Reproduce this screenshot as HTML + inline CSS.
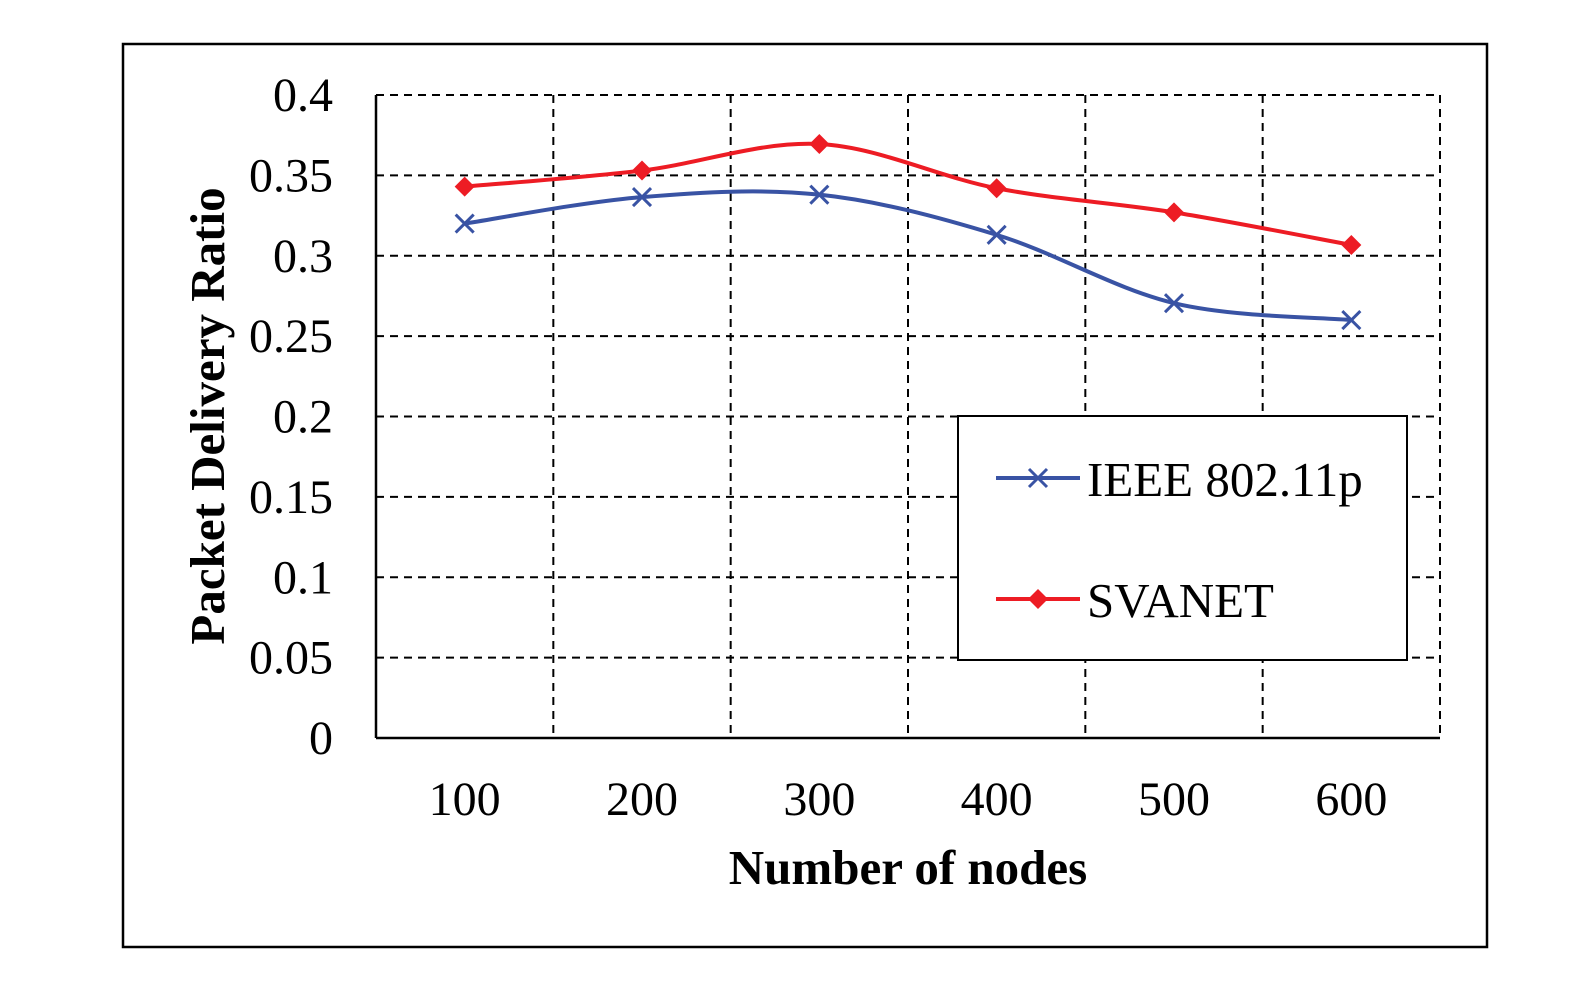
<!DOCTYPE html>
<html><head><meta charset="utf-8"><style>
html,body{margin:0;padding:0;background:#fff;}
svg{display:block;font-family:"Liberation Serif",serif;}
</style></head><body>
<svg id="chart" width="1573" height="1008" viewBox="0 0 1573 1008">
<rect x="123" y="44" width="1364" height="903" fill="#fff" stroke="#000" stroke-width="2.5"/>
<g id="grid"></g>
<g id="axes"></g>
<g id="series"></g>
<text x="908" y="884" font-size="49" font-weight="bold" text-anchor="middle">Number of nodes</text>
<text transform="translate(224,416) rotate(-90)" font-size="49" font-weight="bold" text-anchor="middle">Packet Delivery Ratio</text>
<g>
<rect x="958" y="416" width="449" height="244" fill="#fff" stroke="#000" stroke-width="2"/>
<g>
<line x1="996" y1="478" x2="1080" y2="478" stroke="#3953a4" stroke-width="4"/>
<path d="M1029,469 L1047,487 M1029,487 L1047,469" stroke="#3953a4" stroke-width="3"/>
<text x="1087" y="496" font-size="49">IEEE 802.11p</text>
</g>
<g>
<line x1="996" y1="599" x2="1080" y2="599" stroke="#ed1c24" stroke-width="4"/>
<path d="M1038,589 L1048,599 L1038,609 L1028,599 Z" fill="#ed1c24"/>
<text x="1087" y="617" font-size="49">SVANET</text>
</g>
</g>
</svg>
<script>
const categories = [100, 200, 300, 400, 500, 600];
const ieeeValues = [0.320, 0.3365, 0.338, 0.313, 0.2705, 0.260];
const svanetValues = [0.343, 0.353, 0.3695, 0.342, 0.327, 0.3067];
const yTicks = [0, 0.05, 0.1, 0.15, 0.2, 0.25, 0.3, 0.35, 0.4];
const yTickLabels = ["0","0.05","0.1","0.15","0.2","0.25","0.3","0.35","0.4"];

const NS = "http://www.w3.org/2000/svg";
const L = 376, R = 1440, T = 95, B = 738, yMax = 0.4;
const bw = (R - L) / categories.length;
function xPos(i){ return L + bw * (i + 0.5); }
function yPos(v){ return B - (v / yMax) * (B - T); }
function mk(tag, attrs, parent){
  const e = document.createElementNS(NS, tag);
  for (const k in attrs) e.setAttribute(k, attrs[k]);
  parent.appendChild(e);
  return e;
}
const grid = document.getElementById("grid");
const axes = document.getElementById("axes");
const series = document.getElementById("series");

yTicks.forEach((t, i) => {
  const y = yPos(t);
  if (t !== 0) {
    const g = mk("line", {x1:L, x2:R, y1:y, y2:y, stroke:"#000", "stroke-width":2, "stroke-dasharray":"8,6"}, grid);
    
    
  }
  const tx = mk("text", {x:333, y:y+16, "font-size":48, "text-anchor":"end"}, axes);
  tx.textContent = yTickLabels[i];
  
  
});
for (let i = 1; i <= categories.length; i++) {
  const x = L + bw * i;
  const g = mk("line", {x1:x, x2:x, y1:T, y2:B, stroke:"#000", "stroke-width":2, "stroke-dasharray":"8,6"}, grid);
  
  
}
categories.forEach((c, i) => {
  const tx = mk("text", {x:xPos(i), y:815, "font-size":48, "text-anchor":"middle"}, axes);
  tx.textContent = c;
  
  
});
const ya = mk("line", {x1:L, x2:L, y1:T, y2:B, stroke:"#000", "stroke-width":2.5}, axes);


const xa = mk("line", {x1:L, x2:R, y1:B, y2:B, stroke:"#000", "stroke-width":2.5}, axes);



function smoothPath(vals){
  const p = vals.map((v, i) => [xPos(i), yPos(v)]);
  let d = "M" + p[0][0] + "," + p[0][1];
  for (let i = 0; i < p.length - 1; i++) {
    const p0 = p[i-1] || p[i], p1 = p[i], p2 = p[i+1], p3 = p[i+2] || p[i+1];
    const c1 = [p1[0] + (p2[0]-p0[0])/6, p1[1] + (p2[1]-p0[1])/6];
    const c2 = [p2[0] - (p3[0]-p1[0])/6, p2[1] - (p3[1]-p1[1])/6];
    d += " C" + c1 + " " + c2 + " " + p2;
  }
  return d;
}
function drawSeries(vals, color, kind, name){
  const g = mk("g", {}, series);
  
  
  const ln = mk("path", {d:smoothPath(vals), fill:"none", stroke:color, "stroke-width":4}, g);
  
  
  vals.forEach((v, i) => {
    const x = xPos(i), y = yPos(v);
    let m;
    if (kind === "x") {
      m = mk("path", {d:`M${x-9},${y-9} L${x+9},${y+9} M${x-9},${y+9} L${x+9},${y-9}`, stroke:color, "stroke-width":3}, g);
    } else {
      m = mk("path", {d:`M${x},${y-10} L${x+10},${y} L${x},${y+10} L${x-10},${y} Z`, fill:color}, g);
    }
    
    
  });
}
drawSeries(ieeeValues, "#3953a4", "x", "ieee-series");
drawSeries(svanetValues, "#ed1c24", "d", "svanet-series");
</script>
</body></html>
